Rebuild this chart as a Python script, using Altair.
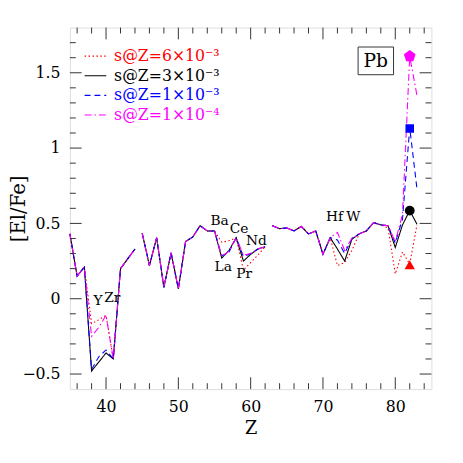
import altair as alt
import pandas as pd

# ---------------- data ----------------
Z = [35, 36, 37, 38, 39, 40, 41, 42, 44,
     45, 46, 47, 48, 49, 50, 51, 52, 53, 54, 55, 56, 57, 58, 59, 60, 61, 62,
     63, 64, 65, 66, 67, 68, 69, 70, 71, 72, 73, 74, 75, 76, 77, 78, 79, 80, 81, 82, 83]
SEG = [0] * 9 + [1] * 18 + [2] * 21

labels = ["s@Z=6×10⁻³", "s@Z=3×10⁻³", "s@Z=1×10⁻³", "s@Z=1×10⁻⁴"]
colors = ["#ff0000", "#000000", "#0000ff", "#ff00ff"]
dashes = [[1.5, 2.5], [1, 0], [6, 4], [7, 3, 1.5, 3]]

red = [0.43, 0.15, 0.21, -0.165, -0.14, -0.11, -0.40, 0.20, 0.33,
       0.435, 0.22, 0.405, 0.075, 0.305, 0.065, 0.38, 0.41, 0.485, 0.45, 0.45, 0.375, 0.385, 0.405, 0.19, 0.24, 0.29, 0.345,
       0.485, 0.465, 0.47, 0.45, 0.48, 0.43, 0.45, 0.295, 0.405, 0.22, 0.24, 0.32, 0.43, 0.45, 0.505, 0.49, 0.47, 0.165, 0.31, 0.23, 0.49]
black = [0.43, 0.15, 0.21, -0.48, -0.42, -0.36, -0.40, 0.20, 0.33,
         0.435, 0.22, 0.405, 0.075, 0.305, 0.065, 0.38, 0.41, 0.485, 0.45, 0.45, 0.27, 0.32, 0.405, 0.25, 0.295, 0.33, 0.345,
         0.485, 0.465, 0.47, 0.45, 0.48, 0.43, 0.45, 0.295, 0.405, 0.33, 0.25, 0.395, 0.43, 0.45, 0.505, 0.49, 0.485, 0.34, 0.49, 0.585, 0.495]
blue = [0.43, 0.15, 0.21, -0.47, -0.385, -0.34, -0.40, 0.20, 0.33,
        0.435, 0.22, 0.405, 0.075, 0.305, 0.065, 0.38, 0.41, 0.485, 0.45, 0.45, 0.285, 0.31, 0.405, 0.28, 0.30, 0.33, 0.345,
        0.485, 0.465, 0.47, 0.45, 0.48, 0.43, 0.45, 0.295, 0.405, 0.39, 0.30, 0.40, 0.43, 0.45, 0.505, 0.49, 0.485, 0.37, 0.53, 1.135, 0.73]
magenta = [0.43, 0.15, 0.21, -0.25, -0.19, -0.11, -0.40, 0.20, 0.33,
           0.435, 0.22, 0.405, 0.075, 0.305, 0.065, 0.38, 0.41, 0.485, 0.45, 0.45, 0.28, 0.315, 0.405, 0.29, 0.30, 0.33, 0.345,
           0.485, 0.465, 0.47, 0.45, 0.48, 0.43, 0.45, 0.295, 0.405, 0.44, 0.32, 0.40, 0.43, 0.45, 0.505, 0.49, 0.485, 0.38, 0.56, 1.61, 1.35]

# Pb markers
pb_Z = [82, 82, 82, 82]
pb_v = [0.225, 0.585, 1.13, 1.61]
pb_shape = ["triangle-up", "circle", "square",
            "M0,-1L0.951,-0.309L0.588,0.809L-0.588,0.809L-0.951,-0.309Z"]
pb_size = [110, 100, 75, 155]

# element annotations
ann_text = ["Ba", "Ce", "Nd", "La", "Pr", "Y", "Zr", "Hf", "W"]
ann_Z = [55.7, 58.4, 60.8, 56.2, 59.1, 38.9, 40.85, 71.6, 74.2]
ann_v = [0.518, 0.465, 0.384, 0.21, 0.164, -0.016, 0.003, 0.54, 0.54]

# Pb box
box_Z = [74.86, 79.76]
box_v = [1.487, 1.671]
box_label_Z = 77.3
box_label_v = 1.579

# ticks
x_major = [40, 50, 60, 70, 80]
x_minor = [36, 38, 42, 44, 46, 48, 52, 54, 56, 58, 62, 64, 66, 68, 72, 74, 76, 78, 82, 84]
y_major = [-0.5, 0, 0.5, 1, 1.5]
y_minor = [-0.4, -0.3, -0.2, -0.1, 0.1, 0.2, 0.3, 0.4, 0.6, 0.7, 0.8, 0.9,
           1.1, 1.2, 1.3, 1.4, 1.6, 1.7]

# ---------------- build ----------------
FONT = "DejaVu Serif"
W = H = 368

rows = []
for lab, vals in zip(labels, [red, black, blue, magenta]):
    for z, s, v in zip(Z, SEG, vals):
        rows.append({"Z": z, "v": v, "series": lab, "seg": s})
df = pd.DataFrame(rows)

xs = alt.Scale(domain=[35, 85], nice=False, zero=False)
ys = alt.Scale(domain=[-0.6, 1.8], nice=False, zero=False)

xaxis = alt.Axis(values=x_major, ticks=False, tickSize=0, domain=False, grid=False,
                 labelFontSize=16, labelPadding=10, labelColor="black", labelFont=FONT,
                 title="Z", titleFontSize=18, titleFontWeight="normal", titleColor="black",
                 titleFont=FONT, titlePadding=5)
yaxis = alt.Axis(values=y_major, ticks=False, tickSize=0, domain=False, grid=False,
                 labelFontSize=16, labelPadding=10, labelColor="black", labelFont=FONT,
                 format="~g",
                 title="[El/Fe]", titleFontSize=20, titleFontWeight="normal", titleColor="black",
                 titleFont=FONT, titleX=-42, titleY=H / 2)


def X(field):
    return alt.X(field, scale=xs, axis=xaxis, title="Z")


def Y(field):
    return alt.Y(field, scale=ys, axis=yaxis, title="[El/Fe]")


leg = alt.Legend(orient="none", legendX=14, legendY=17, title=None,
                 symbolType="stroke", symbolSize=484, symbolStrokeWidth=1.2,
                 labelFontSize=16, labelFont=FONT, labelOffset=7, rowPadding=0, padding=0,
                 labelColor=alt.ExprRef("scale('color', datum.value)"))

lines = alt.Chart(df).mark_line(strokeWidth=1.1).encode(
    x=X("Z:Q"),
    y=Y("v:Q"),
    color=alt.Color("series:N", scale=alt.Scale(domain=labels, range=colors), sort=labels, legend=leg),
    strokeDash=alt.StrokeDash("series:N", scale=alt.Scale(domain=labels, range=dashes), sort=labels, legend=leg),
    detail="seg:N",
)

pb_df = pd.DataFrame({"Z": pb_Z, "v": pb_v, "shape": pb_shape, "size": pb_size, "col": colors})
markers = alt.Chart(pb_df).mark_point(filled=True, opacity=1).encode(
    x=X("Z:Q"),
    y=Y("v:Q"),
    shape=alt.Shape("shape:N", scale=None),
    size=alt.Size("size:Q", scale=None),
    color=alt.Color("col:N", scale=None),
)

ann_df = pd.DataFrame({"Z": ann_Z, "v": ann_v, "t": ann_text})
ann = alt.Chart(ann_df).mark_text(fontSize=14, font=FONT, color="black",
                                   align="center", baseline="middle").encode(
    x=X("Z:Q"),
    y=Y("v:Q"),
    text="t:N",
)

box_df = pd.DataFrame({"Z": [box_Z[0]], "Z2": [box_Z[1]], "v": [box_v[0]], "v2": [box_v[1]]})
box = alt.Chart(box_df).mark_rect(fillOpacity=0, stroke="#333333", strokeWidth=1).encode(
    x=X("Z:Q"), x2="Z2:Q",
    y=Y("v:Q"), y2="v2:Q",
)
pb_lab = alt.Chart(pd.DataFrame({"Z": [box_label_Z], "v": [box_label_v], "t": ["Pb"]})).mark_text(
    fontSize=19, font=FONT, color="black", align="center", baseline="middle").encode(
    x=X("Z:Q"),
    y=Y("v:Q"),
    text="t:N",
)

TICK = "#333333"


def xticks(vals, length):
    d = pd.DataFrame({"Z": vals})
    b = alt.Chart(d).mark_rule(color=TICK, strokeWidth=1).encode(
        x=X("Z:Q"), y=alt.value(H), y2=alt.value(H - length))
    t = alt.Chart(d).mark_rule(color=TICK, strokeWidth=1).encode(
        x=X("Z:Q"), y=alt.value(0), y2=alt.value(length))
    return [b, t]


def yticks(vals, length):
    d = pd.DataFrame({"v": vals})
    l = alt.Chart(d).mark_rule(color=TICK, strokeWidth=1).encode(
        y=Y("v:Q"), x=alt.value(0), x2=alt.value(length))
    r = alt.Chart(d).mark_rule(color=TICK, strokeWidth=1).encode(
        y=Y("v:Q"), x=alt.value(W), x2=alt.value(W - length))
    return [l, r]


tick_layers = xticks(x_major, 12) + xticks(x_minor, 6) + yticks(y_major, 12) + yticks(y_minor, 6)

chart = alt.layer(lines, *tick_layers, box, pb_lab, ann, markers).properties(
    width=W, height=H,
    padding={"left": 63, "top": 16, "right": 24, "bottom": 55},
    autosize=alt.AutoSizeParams(type="none"),
).configure_view(stroke="black", strokeWidth=1).configure(font=FONT, background="white")

chart.save("out.html", embed_options={"renderer": "svg", "actions": False})
